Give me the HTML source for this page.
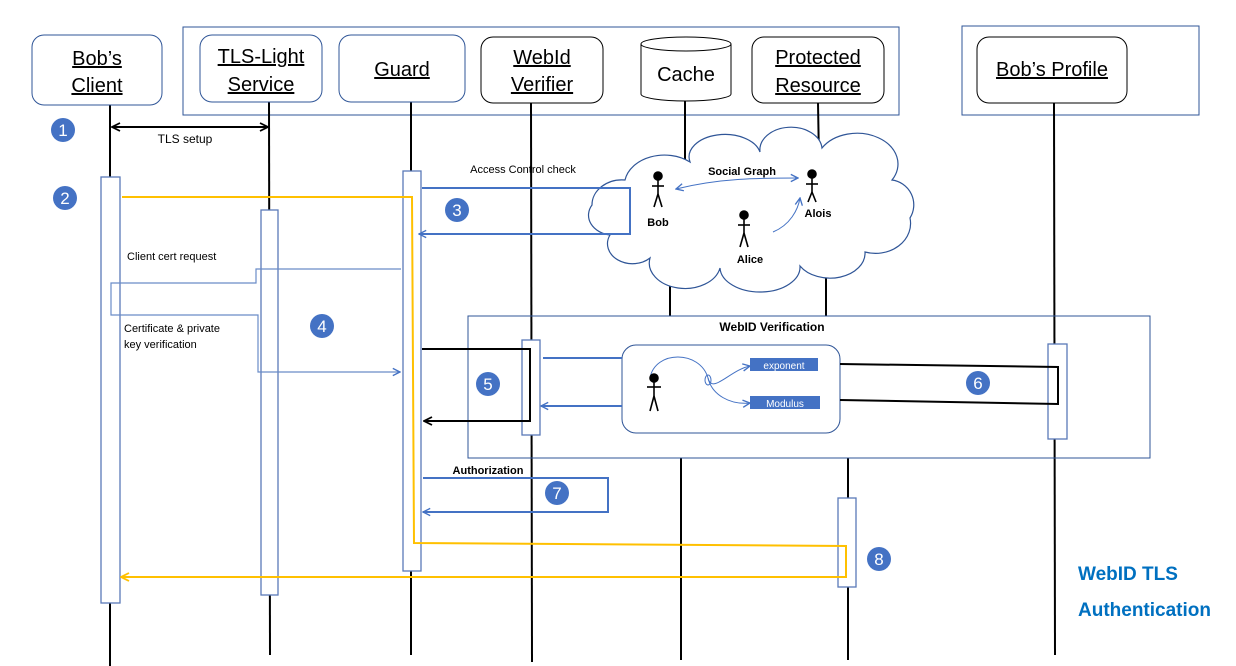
<!DOCTYPE html>
<html><head><meta charset="utf-8"><style>
body{margin:0;background:#fff;}
svg{display:block;font-family:"Liberation Sans",sans-serif;}
</style></head><body>
<svg width="1236" height="666" viewBox="0 0 1236 666" xmlns="http://www.w3.org/2000/svg">
<defs>
<marker id="ab" viewBox="0 0 10 10" refX="9" refY="5" markerWidth="9" markerHeight="9" orient="auto-start-reverse" markerUnits="userSpaceOnUse"><path d="M1,1 L9,5 L1,9" fill="none" stroke="#4472c4" stroke-width="1.5"/></marker>
<marker id="ak" viewBox="0 0 10 10" refX="9" refY="5" markerWidth="10" markerHeight="10" orient="auto-start-reverse" markerUnits="userSpaceOnUse"><path d="M1,1 L9,5 L1,9" fill="none" stroke="#000" stroke-width="1.8"/></marker>
<marker id="ay" viewBox="0 0 10 10" refX="9" refY="5" markerWidth="10" markerHeight="10" orient="auto-start-reverse" markerUnits="userSpaceOnUse"><path d="M1,1 L9,5 L1,9" fill="none" stroke="#ffc000" stroke-width="1.8"/></marker>
</defs>

<!-- group rects -->
<rect x="183" y="27" width="716" height="88" fill="none" stroke="#2f5597" stroke-width="1"/>
<rect x="962" y="26" width="237" height="89" fill="none" stroke="#2f5597" stroke-width="1"/>

<!-- lifelines -->
<g stroke="#000" stroke-width="2">
<line x1="110" y1="105" x2="110" y2="666"/>
<line x1="269" y1="102" x2="270" y2="655"/>
<line x1="411" y1="102" x2="411" y2="655"/>
<line x1="531" y1="103" x2="532" y2="662"/>
<line x1="685" y1="100" x2="685" y2="170"/>
<line x1="670" y1="265" x2="670" y2="316"/>
<line x1="681" y1="458" x2="681" y2="660"/>
<line x1="818" y1="103" x2="819" y2="160"/>
<line x1="826" y1="265" x2="826" y2="316"/>
<line x1="848" y1="458" x2="848" y2="660"/>
<line x1="1054" y1="103" x2="1055" y2="655"/>
</g>

<!-- header boxes -->
<g font-size="20" text-anchor="middle" text-decoration="underline">
<rect x="32" y="35" width="130" height="70" rx="12" fill="#fff" stroke="#2f5597"/>
<text x="97" y="65">Bob’s</text><text x="97" y="92">Client</text>
<rect x="200" y="35" width="122" height="67" rx="12" fill="#fff" stroke="#2f5597"/>
<text x="261" y="63">TLS-Light</text><text x="261" y="91">Service</text>
<rect x="339" y="35" width="126" height="67" rx="12" fill="#fff" stroke="#2f5597"/>
<text x="402" y="76">Guard</text>
<rect x="481" y="37" width="122" height="66" rx="12" fill="#fff" stroke="#000"/>
<text x="542" y="64">WebId</text><text x="542" y="91">Verifier</text>
<rect x="752" y="37" width="132" height="66" rx="12" fill="#fff" stroke="#000"/>
<text x="818" y="64">Protected</text><text x="818" y="92">Resource</text>
<rect x="977" y="37" width="150" height="66" rx="12" fill="#fff" stroke="#000"/>
<text x="1052" y="76">Bob’s Profile</text>
</g>
<!-- cache cylinder -->
<path d="M641,44 L641,94 A45,7 0 0 0 731,94 L731,44" fill="#fff" stroke="#000"/>
<ellipse cx="686" cy="44" rx="45" ry="7" fill="#fff" stroke="#000"/>
<text x="686" y="81" font-size="20" text-anchor="middle">Cache</text>

<!-- TLS setup -->
<line x1="112" y1="127" x2="268" y2="127" stroke="#000" stroke-width="2" marker-start="url(#ak)" marker-end="url(#ak)"/>
<text x="185" y="143" font-size="12" text-anchor="middle">TLS setup</text>

<!-- cloud -->
<path d="M610,235 A25,20 0 0 1 592,205 A30,25 0 0 1 625,180 A40,30 0 0 1 690,162 A35,22 0 0 1 760,152 A30,22 0 0 1 822,148 A40,30 0 0 1 892,180 A25,25 0 0 1 910,218 A35,30 0 0 1 865,252 A35,25 0 0 1 800,266 A40,25 0 0 1 720,268 A35,25 0 0 1 650,258 A25,20 0 0 1 610,235 Z" fill="#fff" stroke="#2f5597" stroke-width="1.2"/>

<!-- activation bars -->
<g fill="#fff" stroke="#5a7ab8" stroke-width="1.3">
<rect x="101" y="177" width="19" height="426"/>
<rect x="261" y="210" width="17" height="385"/>
<rect x="403" y="171" width="18" height="400"/>
<rect x="838" y="498" width="18" height="89"/>
</g>

<!-- WebID verification box -->
<rect x="468" y="316" width="682" height="142" fill="none" stroke="#2f5597"/>
<text x="772" y="331" font-size="12" font-weight="bold" text-anchor="middle">WebID Verification</text>
<rect x="522" y="340" width="18" height="95" fill="#fff" stroke="#5a7ab8" stroke-width="1.3"/>
<rect x="1048" y="344" width="19" height="95" fill="#fff" stroke="#5a7ab8" stroke-width="1.3"/>
<rect x="622" y="345" width="218" height="88" rx="14" fill="#fff" stroke="#2f5597"/>
<rect x="750" y="358" width="68" height="13" fill="#4472c4"/>
<text x="784" y="369" font-size="10" fill="#fff" text-anchor="middle">exponent</text>
<rect x="750" y="396" width="70" height="13" fill="#4472c4"/>
<text x="785" y="407" font-size="10" fill="#fff" text-anchor="middle">Modulus</text>
<path d="M650,378 C655,350 700,350 708,378 C712,395 730,370 750,366" fill="none" stroke="#4472c4" marker-end="url(#ab)"/>
<path d="M708,378 C712,395 730,405 750,403" fill="none" stroke="#4472c4" marker-end="url(#ab)"/>
<ellipse cx="708" cy="380" rx="3" ry="5" fill="none" stroke="#4472c4"/>

<!-- stick figures -->
<g stroke="#000" stroke-width="1.6" fill="none">
<g transform="translate(658,170)"><circle cx="0" cy="6" r="4" fill="#000"/><line x1="0" y1="10" x2="0" y2="24"/><line x1="-6" y1="16" x2="6" y2="16"/><line x1="0" y1="24" x2="-4" y2="37"/><line x1="0" y1="24" x2="4" y2="37"/></g>
<g transform="translate(812,168)"><circle cx="0" cy="6" r="4" fill="#000"/><line x1="0" y1="10" x2="0" y2="24"/><line x1="-6" y1="16" x2="6" y2="16"/><line x1="0" y1="24" x2="-4" y2="34"/><line x1="0" y1="24" x2="4" y2="34"/></g>
<g transform="translate(744,209)"><circle cx="0" cy="6" r="4" fill="#000"/><line x1="0" y1="10" x2="0" y2="24"/><line x1="-6" y1="16" x2="6" y2="16"/><line x1="0" y1="24" x2="-4" y2="38"/><line x1="0" y1="24" x2="4" y2="38"/></g>
<g transform="translate(654,372)"><circle cx="0" cy="6" r="4" fill="#000"/><line x1="0" y1="10" x2="0" y2="24"/><line x1="-7" y1="15" x2="7" y2="15"/><line x1="0" y1="24" x2="-4" y2="39"/><line x1="0" y1="24" x2="4" y2="39"/></g>
</g>
<g font-size="11" font-weight="bold" text-anchor="middle">
<text x="658" y="226">Bob</text><text x="818" y="217">Alois</text><text x="750" y="263">Alice</text>
<text x="742" y="175">Social Graph</text>
</g>
<path d="M676,189 C720,178 760,178 798,178" fill="none" stroke="#4472c4" marker-start="url(#ab)" marker-end="url(#ab)"/>
<path d="M773,232 C790,225 798,210 800,198" fill="none" stroke="#4472c4" marker-end="url(#ab)"/>

<!-- step 3 -->
<text x="523" y="173" font-size="11" text-anchor="middle">Access Control check</text>
<polyline points="422,188 630,188 630,234 419,234" fill="none" stroke="#4472c4" stroke-width="2" marker-end="url(#ab)"/>

<!-- step 4 -->
<text x="127" y="260" font-size="11">Client cert  request</text>
<text x="124" y="332" font-size="11">Certificate &amp; private</text>
<text x="124" y="348" font-size="11">key   verification</text>
<polyline points="401,269 256,269 256,283 111,283 111,315 258,315 258,372 400,372" fill="none" stroke="#6a8cc8" stroke-width="1.2" marker-end="url(#ab)"/>

<!-- step 5 -->
<polyline points="422,349 530,349 530,421 424,421" fill="none" stroke="#000" stroke-width="2" marker-end="url(#ak)"/>
<line x1="543" y1="358" x2="622" y2="358" stroke="#4472c4" stroke-width="2"/>
<line x1="622" y1="406" x2="541" y2="406" stroke="#4472c4" stroke-width="2" marker-end="url(#ab)"/>

<!-- step 6 -->
<polyline points="840,364 1058,367 1058,404 840,400" fill="none" stroke="#000" stroke-width="2"/>

<!-- step 7 -->
<text x="488" y="474" font-size="11" font-weight="bold" text-anchor="middle">Authorization</text>
<polyline points="423,478 608,478 608,512 423,512" fill="none" stroke="#4472c4" stroke-width="2" marker-end="url(#ab)"/>

<!-- yellow path -->
<polyline points="122,197 412,197 414,543 846,546 846,577 121,577" fill="none" stroke="#ffc000" stroke-width="2" marker-end="url(#ay)"/>

<!-- numbered circles -->
<g fill="#4472c4">
<circle cx="63" cy="130" r="12"/><circle cx="65" cy="198" r="12"/><circle cx="457" cy="210" r="12"/>
<circle cx="322" cy="326" r="12"/><circle cx="488" cy="384" r="12"/><circle cx="978" cy="383" r="12"/>
<circle cx="557" cy="493" r="12"/><circle cx="879" cy="559" r="12"/>
</g>
<g fill="#fff" font-size="17" text-anchor="middle">
<text x="63" y="136">1</text><text x="65" y="204">2</text><text x="457" y="216">3</text>
<text x="322" y="332">4</text><text x="488" y="390">5</text><text x="978" y="389">6</text>
<text x="557" y="499">7</text><text x="879" y="565">8</text>
</g>

<text x="1078" y="580" font-size="19" font-weight="bold" fill="#0070c0">WebID TLS</text>
<text x="1078" y="616" font-size="19" font-weight="bold" fill="#0070c0">Authentication</text>
</svg>
</body></html>
